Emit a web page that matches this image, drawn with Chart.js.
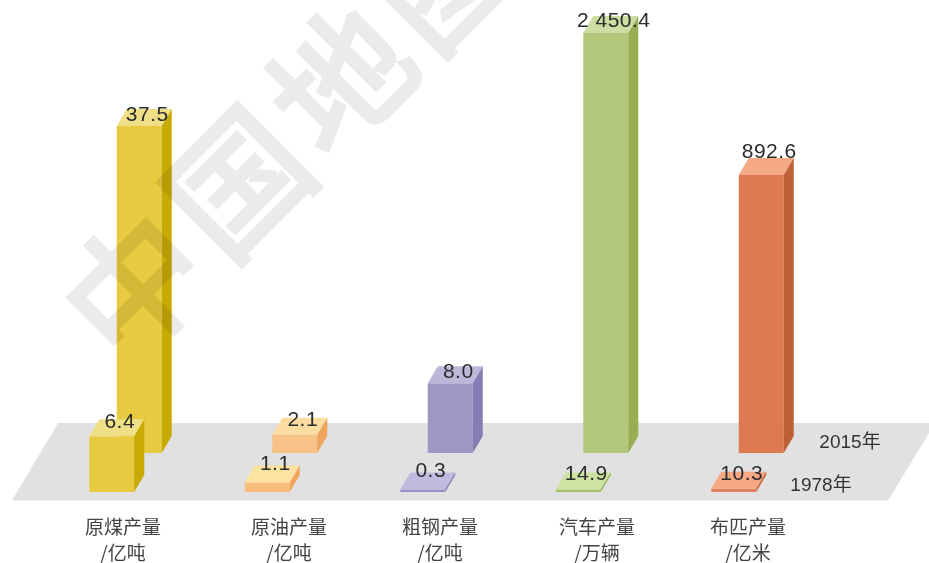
<!DOCTYPE html>
<html>
<head>
<meta charset="utf-8">
<title>1978 vs 2015</title>
<script src="https://cdn.jsdelivr.net/npm/chart.js@4"></script>
<style>
body { margin: 0; background: #fff; }
canvas { display: block; }
</style>
</head>
<body>
<canvas id="myChart" width="929" height="563"></canvas>
<script>
// values
const categories = ['原煤产量', '原油产量', '粗钢产量', '汽车产量', '布匹产量'];
const units = ['/亿吨', '/亿吨', '/亿吨', '/万辆', '/亿米'];
const values1978 = [6.4, 1.1, 0.3, 14.9, 10.3];
const values2015 = [37.5, 2.1, 8.0, 2450.4, 892.6];
const unitGroups = ['ton', 'ton', 'ton', 'car', 'cloth'];

// where the name labels sit on the slot axis
const labelSlots = [-0.016, 1.051, 2.022, 3.032, 4.003];

// colours: front, top, side
const front1978 = ['#e7ca3f', '#f8bd7c', '#9c91c6', '#a3c267', '#de8159'];
const top1978 = ['#efdf87', '#fde2a0', '#c2bade', '#cde3a2', '#f5a983'];
const side1978 = ['#c7aa03', '#f0a45c', '#8478b6', '#8fb04e', '#c9643c'];
const front2015 = ['#e7ca3f', '#f8c187', '#a096c4', '#b4c87d', '#dd7a51'];
const top2015 = ['#efdf87', '#fcdca0', '#bfb7da', '#cddda3', '#f6a985'];
const side2015 = ['#c7aa03', '#f0a55f', '#877bb4', '#97ae51', '#bf5f38'];

// how far the number sits above each bar
const lift1978 = [14, 18, 18, 15, 15];
const lift2015 = [11, 14, 11, 12, 23];

const plotBottom = 510;
const baseFront = 492;
const baseBack = 453;
const depthX = 10;
const depthY = 17;
const pxPerUnit = { ton: 8.72, car: 0.1714, cloth: 0.3114 };

function axisRange(unit, base) {
    return {
        type: 'linear',
        display: false,
        min: -(plotBottom - base) / pxPerUnit[unit],
        max: base / pxPerUnit[unit]
    };
}

function formatValue(v) {
    const parts = v.toFixed(1).split('.');
    return parts[0].replace(/\B(?=(\d{3})+$)/g, ' ') + '.' + parts[1];
}

// one dataset per row and unit, the front row first so it lands on top
const datasets = [];
[['1978', values1978, front1978, top1978, side1978, lift1978],
 ['2015', values2015, front2015, top2015, side2015, lift2015]].forEach(row => {
    ['ton', 'car', 'cloth'].forEach(unit => {
        datasets.push({
            label: row[0],
            yAxisID: unit + row[0],
            data: row[1].map((v, i) => unitGroups[i] === unit ? v : null),
            backgroundColor: row[2],
            topColors: row[3],
            sideColors: row[4],
            lifts: row[5],
            skipNull: true,
            categoryPercentage: 55 / 155.5,
            barPercentage: 45 / 27.5
        });
    });
});

function polygon(ctx, points, color) {
    ctx.fillStyle = color;
    ctx.beginPath();
    points.forEach((p, i) => i ? ctx.lineTo(p[0], p[1]) : ctx.moveTo(p[0], p[1]));
    ctx.closePath();
    ctx.fill();
}

// grey floor below the bars
const floorPlugin = {
    id: 'floor',
    beforeDatasetsDraw(chart) {
        polygon(chart.ctx, [[58, 423], [935, 423], [888, 500.5], [12, 500.5]], '#e1e1e1');
    }
};

// top and side faces of each bar
const facesPlugin = {
    id: 'faces',
    afterDatasetDraw(chart, args) {
        const ctx = chart.ctx;
        const ds = chart.data.datasets[args.index];
        args.meta.data.forEach((bar, i) => {
            if (ds.data[i] === null) return;
            const left = bar.x - bar.width / 2;
            const right = bar.x + bar.width / 2;
            polygon(ctx, [[left, bar.y], [left + depthX, bar.y - depthY], [right + depthX, bar.y - depthY], [right, bar.y]], ds.topColors[i]);
            polygon(ctx, [[right, bar.y], [right + depthX, bar.y - depthY], [right + depthX, bar.base - depthY], [right, bar.base]], ds.sideColors[i]);
        });
    }
};

// numbers, year names and the watermark
const textPlugin = {
    id: 'texts',
    afterDatasetsDraw(chart) {
        const ctx = chart.ctx;
        ctx.save();
        ctx.textAlign = 'center';
        ctx.textBaseline = 'middle';
        ctx.fillStyle = '#2b2b2b';
        ctx.font = '21px "Liberation Sans"';
        ctx.letterSpacing = '0.5px';
        chart.data.datasets.forEach((ds, d) => {
            chart.getDatasetMeta(d).data.forEach((bar, i) => {
                if (ds.data[i] === null) return;
                ctx.fillText(formatValue(ds.data[i]), bar.x + 8, bar.y - ds.lifts[i]);
            });
        });
        ctx.letterSpacing = '0px';
        ctx.fillStyle = '#333';
        ctx.font = '19px "Liberation Sans", "Noto Sans CJK SC"';
        ctx.fillText('2015年', 850, 443);
        ctx.fillText('1978年', 821, 486);
        ctx.restore();
    },
    afterDraw(chart) {
        // drawn apart first so the thickened strokes do not darken where they overlap
        const layer = document.createElement('canvas');
        layer.width = 929;
        layer.height = 563;
        const c = layer.getContext('2d');
        c.translate(293, 127);
        c.rotate(-Math.PI / 4);
        c.textAlign = 'center';
        c.textBaseline = 'middle';
        c.font = '135px "Noto Sans CJK SC"';
        c.letterSpacing = '11px';
        c.lineWidth = 5;
        c.fillText('中国地图', 0, 0);
        c.strokeText('中国地图', 0, 0);
        chart.ctx.save();
        chart.ctx.globalAlpha = 0.08;
        chart.ctx.drawImage(layer, 0, 0);
        chart.ctx.restore();
    }
};

new Chart(document.getElementById('myChart'), {
    type: 'bar',
    data: { labels: categories, datasets: datasets },
    plugins: [floorPlugin, facesPlugin, textPlugin],
    options: {
        responsive: false,
        animation: false,
        layout: { padding: { left: 47.75, right: 103.75, top: 0, bottom: 0 } },
        plugins: { legend: { display: false }, tooltip: { enabled: false } },
        scales: {
            x: { type: 'category', display: false },
            xNames: {
                type: 'linear',
                axis: 'x',
                position: 'bottom',
                bounds: 'data',
                offset: false,
                min: -0.5,
                max: 4.5,
                grid: { display: false, drawTicks: false },
                border: { display: false },
                afterBuildTicks(scale) {
                    scale.ticks = labelSlots.map(value => ({ value: value }));
                },
                afterFit(scale) {
                    scale.height = 563 - plotBottom;
                },
                ticks: {
                    autoSkip: false,
                    maxRotation: 0,
                    padding: 3,
                    color: '#444',
                    font: { family: '"Noto Sans CJK SC"', size: 19, lineHeight: 1.4 },
                    callback(value, index) {
                        return [categories[index], units[index]];
                    }
                }
            },
            ton1978: axisRange('ton', baseFront),
            car1978: axisRange('car', baseFront),
            cloth1978: axisRange('cloth', baseFront),
            ton2015: axisRange('ton', baseBack),
            car2015: axisRange('car', baseBack),
            cloth2015: axisRange('cloth', baseBack)
        }
    }
});
</script>
</body>
</html>
